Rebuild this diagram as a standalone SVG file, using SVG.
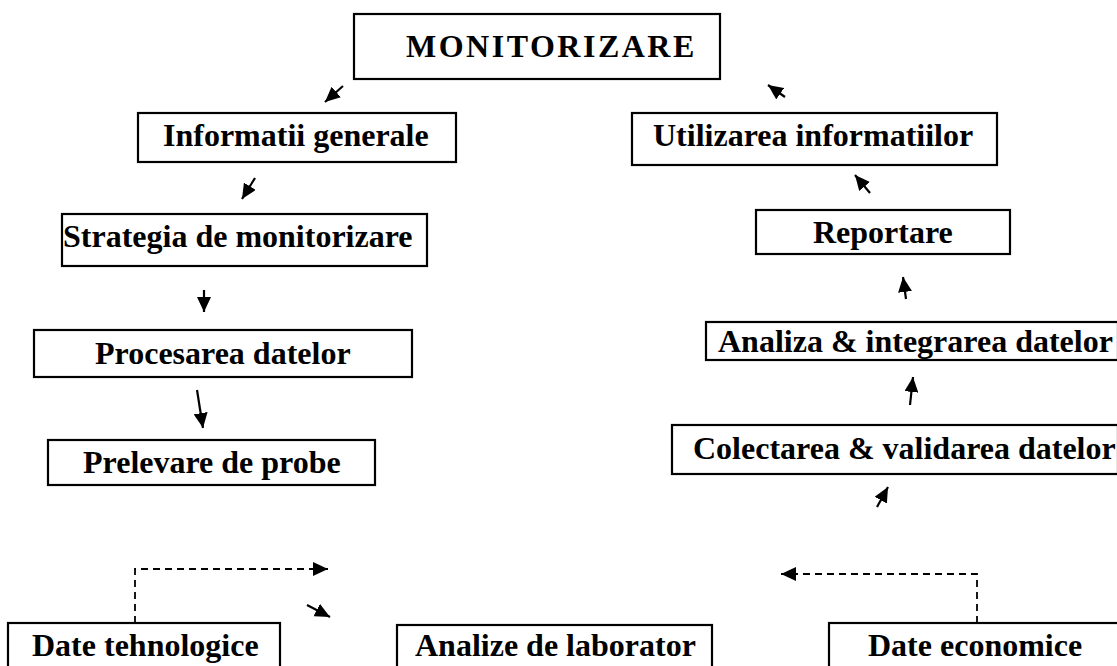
<svg xmlns="http://www.w3.org/2000/svg" width="1117" height="666" viewBox="0 0 1117 666">
  <style>
    .box { fill: #ffffff; stroke: #000000; stroke-width: 2.2; }
    .lbl { font-family: "Liberation Serif", "Times New Roman", serif; font-weight: bold; font-size: 32px; fill: #000000; }
    .title { letter-spacing: 2.5px; }
    .arr { stroke: #000000; stroke-width: 2.2; fill: none; }
    .dash { stroke: #000000; stroke-width: 1.8; fill: none; stroke-dasharray: 7 5; }
  </style>
  <defs>
    <marker id="head" markerUnits="userSpaceOnUse" markerWidth="17" markerHeight="14" refX="15" refY="7" orient="auto">
      <path d="M0,0 L15,7 L0,14 Z" fill="#000000"/>
    </marker>
  </defs>
  <rect width="1117" height="666" fill="#ffffff"/>

  <g id="monitorizare">
    <rect class="box" x="354" y="14" width="366" height="65"/>
    <text class="lbl title" x="406" y="57">MONITORIZARE</text>
  </g>
  <g id="informatii-generale">
    <rect class="box" x="138" y="113" width="318" height="49"/>
    <text class="lbl" x="163" y="146">Informatii generale</text>
  </g>
  <g id="strategia">
    <rect class="box" x="62" y="214" width="365" height="52"/>
    <text class="lbl" x="63" y="247">Strategia de monitorizare</text>
  </g>
  <g id="procesarea">
    <rect class="box" x="34" y="330" width="378" height="47"/>
    <text class="lbl" x="95" y="364">Procesarea datelor</text>
  </g>
  <g id="prelevare">
    <rect class="box" x="48" y="440" width="327" height="45"/>
    <text class="lbl" x="83" y="473">Prelevare de probe</text>
  </g>
  <g id="utilizarea">
    <rect class="box" x="632" y="113" width="365" height="52"/>
    <text class="lbl" x="653" y="146">Utilizarea informatiilor</text>
  </g>
  <g id="reportare">
    <rect class="box" x="756" y="210" width="254" height="44"/>
    <text class="lbl" x="813" y="243">Reportare</text>
  </g>
  <g id="analiza">
    <rect class="box" x="706" y="322" width="412" height="38"/>
    <text class="lbl" x="718" y="352">Analiza &amp; integrarea datelor</text>
  </g>
  <g id="colectarea">
    <rect class="box" x="672" y="425" width="446" height="49"/>
    <text class="lbl" x="693" y="459">Colectarea &amp; validarea datelor</text>
  </g>
  <g id="date-tehnologice">
    <rect class="box" x="8" y="623" width="272" height="60"/>
    <text class="lbl" x="32" y="656">Date tehnologice</text>
  </g>
  <g id="analize-laborator">
    <rect class="box" x="397" y="625" width="315" height="60"/>
    <text class="lbl" x="415" y="656">Analize de laborator</text>
  </g>
  <g id="date-economice">
    <rect class="box" x="829" y="623" width="300" height="60"/>
    <text class="lbl" x="868" y="656">Date economice</text>
  </g>

  <g id="connectors">
    <line class="arr" x1="343" y1="86" x2="325" y2="102" marker-end="url(#head)"/>
    <line class="arr" x1="785" y1="97" x2="768" y2="85" marker-end="url(#head)"/>
    <line class="arr" x1="255" y1="178" x2="242" y2="199" marker-end="url(#head)"/>
    <line class="arr" x1="204" y1="290" x2="204" y2="312" marker-end="url(#head)"/>
    <line class="arr" x1="197" y1="390" x2="203" y2="428" marker-end="url(#head)"/>
    <line class="arr" x1="870" y1="193" x2="855" y2="175" marker-end="url(#head)"/>
    <line class="arr" x1="906" y1="299" x2="903" y2="277" marker-end="url(#head)"/>
    <line class="arr" x1="910" y1="405" x2="913" y2="377" marker-end="url(#head)"/>
    <line class="arr" x1="877" y1="507" x2="888" y2="487" marker-end="url(#head)"/>
    <line class="arr" x1="307" y1="605" x2="330" y2="617" marker-end="url(#head)"/>
    <path class="dash" d="M135,623 V569 H328" marker-end="url(#head)"/>
    <path class="dash" d="M977,623 V574 H781" marker-end="url(#head)"/>
  </g>
</svg>
